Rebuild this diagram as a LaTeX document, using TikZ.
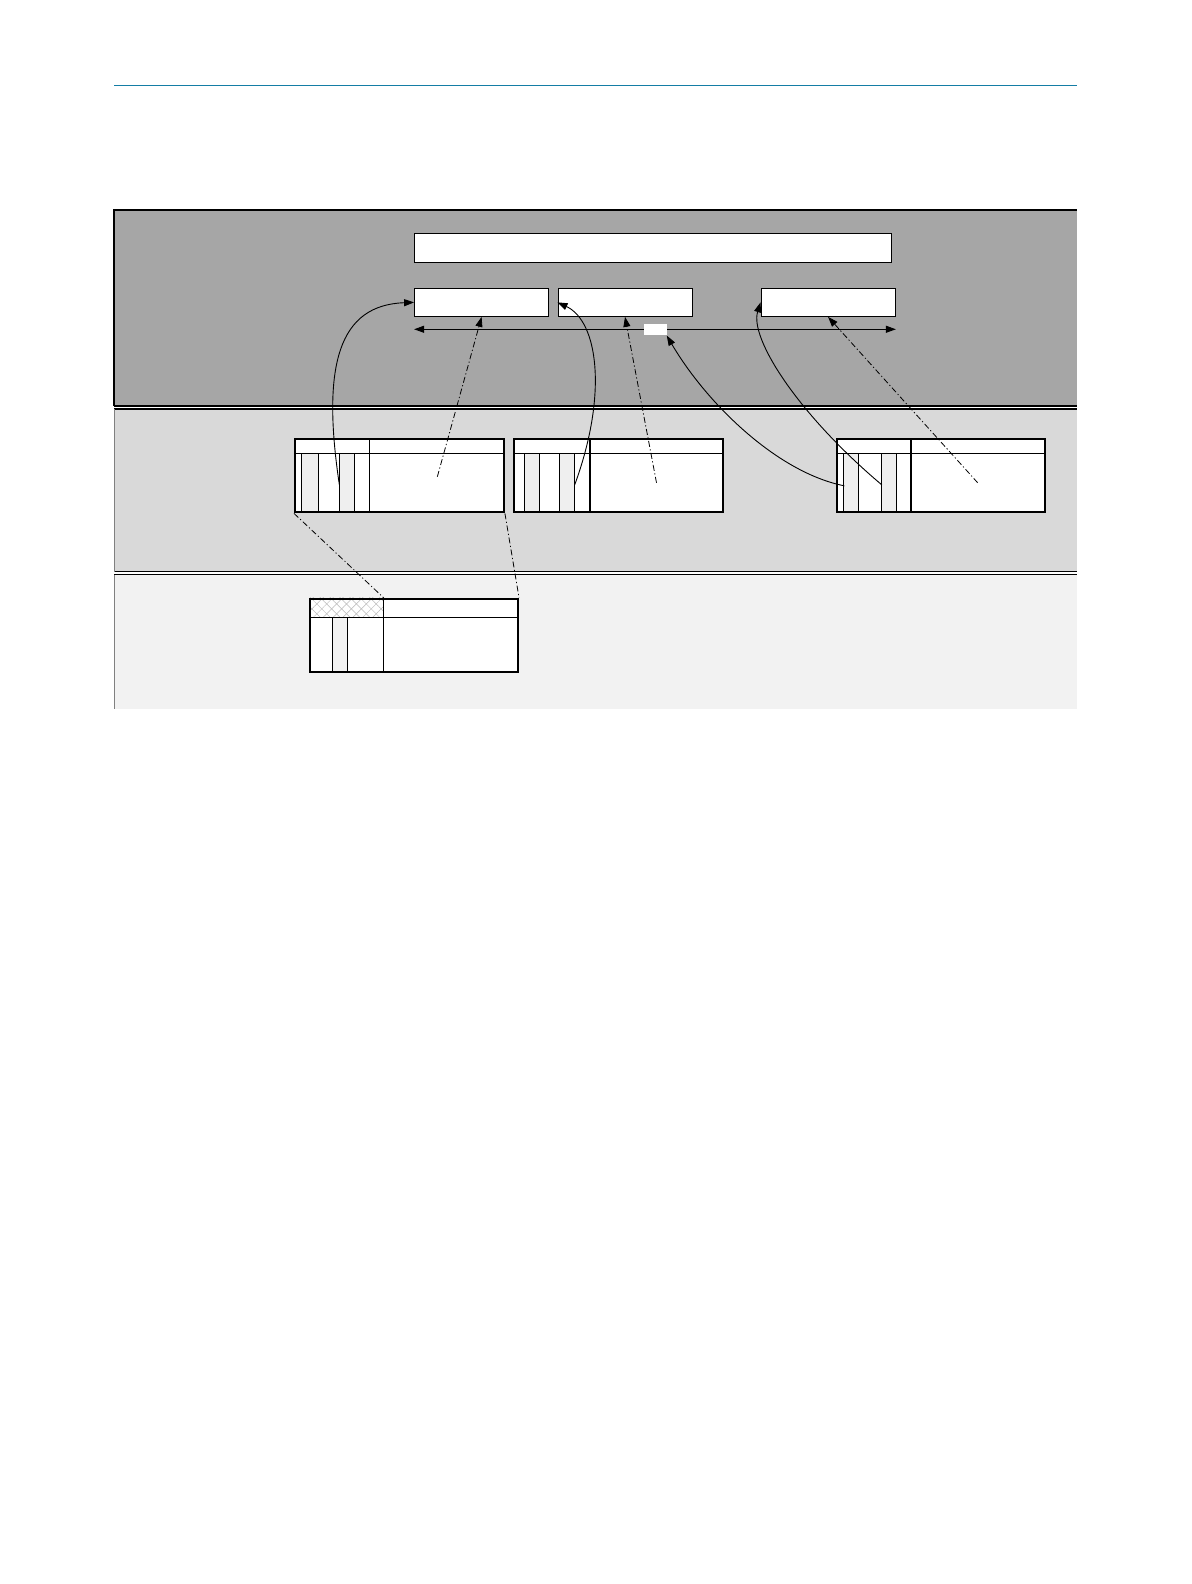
\documentclass[tikz,border=0pt]{standalone}
\usetikzlibrary{arrows.meta,patterns.meta}
\definecolor{bandA}{HTML}{A6A6A6}
\definecolor{bandB}{HTML}{D9D9D9}
\definecolor{bandC}{HTML}{F2F2F2}
\definecolor{colshade}{HTML}{EFEFEF}
\definecolor{ruleblue}{RGB}{20,125,165}
\begin{document}
\begin{tikzpicture}[x=1.01pt,y=-1.01pt,
  box/.style={draw=black,line width=1pt,fill=white,inner sep=0pt,anchor=north west},
  tbl/.style={draw=black,line width=2pt,inner sep=0pt,anchor=north west},
  thin/.style={line width=1pt},
  conn/.style={line width=0.9pt,-{Triangle[length=10pt,width=7pt]}},
  dashdot/.style={line width=0.8pt,dash pattern=on 6pt off 2.5pt on 1.2pt off 2.5pt},
  dashconn/.style={dashdot,-{Triangle[length=10pt,width=7pt]}}]
\useasboundingbox (0,0) rectangle (1179.2,1568.3);
% top rule
\draw[ruleblue,line width=1.2pt] (113,85) -- (1066,85);
% bands
\fill[bandA] (113,208) rectangle (1066,402);
\fill[bandB] (113,405) rectangle (1066,566);
\fill[bandC] (113,569) rectangle (1066,702);
\draw[line width=1.3pt] (113,402) -- (113,208) -- (1066,208);
\draw[line width=1.2pt] (113,402) -- (1066,402);
\draw[line width=1.2pt] (113,405) -- (1066,405);
\draw[line width=1.2pt] (113,566) -- (1066,566);
\draw[line width=1.2pt] (113,569) -- (1066,569);
\draw[gray,line width=1pt] (113,405) -- (113,566);
\draw[gray,line width=1pt] (113,569) -- (113,702);
% top boxes
\node[box,minimum width=477,minimum height=29] (topbox) at (410,231) {};
\node[box,minimum width=134,minimum height=28] (boxA) at (410,285) {};
\node[box,minimum width=134,minimum height=28] (boxB) at (552,285) {};
\node[box,minimum width=134,minimum height=28] (boxC) at (753,285) {};
% bus
\coordinate (busL) at (410,326);
\coordinate (busR) at (887,326);
\draw[line width=1pt,{Triangle[length=10pt,width=7pt]}-{Triangle[length=10pt,width=7pt]}] (busL) -- (busR);
\node[fill=white,inner sep=0pt,minimum width=23,minimum height=11,anchor=north west] (busmark) at (637,321) {};
% table 1
\fill[white] (291,434) rectangle (500,507);
\fill[colshade] (299,449) rectangle (315,507);
\fill[colshade] (336,449) rectangle (351,507);
\draw[thin] (291,449) -- (500,449);
\foreach \xx in {299,315,336,351} \draw[thin] (\xx,449) -- (\xx,507);
\draw[thin] (366,434) -- (366,507);
\node[tbl,minimum width=209,minimum height=73] (tabA) at (291,434) {};
% table 2
\fill[white] (508,434) rectangle (717,507);
\fill[colshade] (519,449) rectangle (534,507);
\fill[colshade] (554,449) rectangle (569,507);
\draw[thin] (508,449) -- (717,449);
\foreach \xx in {519,534,554,569} \draw[thin] (\xx,449) -- (\xx,507);
\draw[line width=2pt] (584,434) -- (584,507);
\node[tbl,minimum width=209,minimum height=73] (tabB) at (508,434) {};
% table 3
\fill[white] (828,434) rectangle (1036,507);
\fill[colshade] (835,449) rectangle (850,507);
\fill[colshade] (873,449) rectangle (888,507);
\draw[thin] (828,449) -- (1036,449);
\foreach \xx in {835,850,873,888} \draw[thin] (\xx,449) -- (\xx,507);
\draw[line width=2pt] (902,434) -- (902,507);
\node[tbl,minimum width=208,minimum height=73] (tabC) at (828,434) {};
% table 4
\fill[white] (306,592) rectangle (514,665);
\fill[pattern={Lines[angle=45,distance=7pt,line width=0.5pt]},pattern color=gray!55] (306,592) rectangle (380,611);
\fill[pattern={Lines[angle=-45,distance=7pt,line width=0.5pt]},pattern color=gray!55] (306,592) rectangle (380,611);
\fill[bandC] (329,611) rectangle (344,665);
\draw[thin] (306,611) -- (514,611);
\foreach \xx in {329,344} \draw[thin] (\xx,611) -- (\xx,665);
\draw[thin] (380,592) -- (380,665);
\node[tbl,minimum width=208,minimum height=73] (tabD) at (306,592) {};
% connector start points
\coordinate (s1) at (336,480);
\coordinate (s2) at (569,480);
\coordinate (s3) at (836,481);
\coordinate (s4) at (873,480);
\coordinate (d1) at (433,472);
\coordinate (d2) at (650,478);
\coordinate (d3) at (968,478);
% solid curved connectors
\draw[conn] (s1) .. controls (318,360) and (336,302) .. (boxA.west);
\draw[conn] (s2) .. controls (602,390) and (592,318) .. (boxB.west);
\draw[conn] (s3) .. controls (770,468) and (700,400) .. (busmark.south east);
\draw[conn] (s4) .. controls (790,410) and (742,335) .. (boxC.west);
% dash-dot connectors
\draw[dashconn] (d1) -- (boxA.south);
\draw[dashconn] (d2) -- (boxB.south);
\draw[dashconn] (d3) -- (boxC.south);
\draw[dashdot] (tabA.south west) -- (380,592);
\draw[dashdot] (tabA.south east) -- (tabD.north east);
\end{tikzpicture}
\end{document}
